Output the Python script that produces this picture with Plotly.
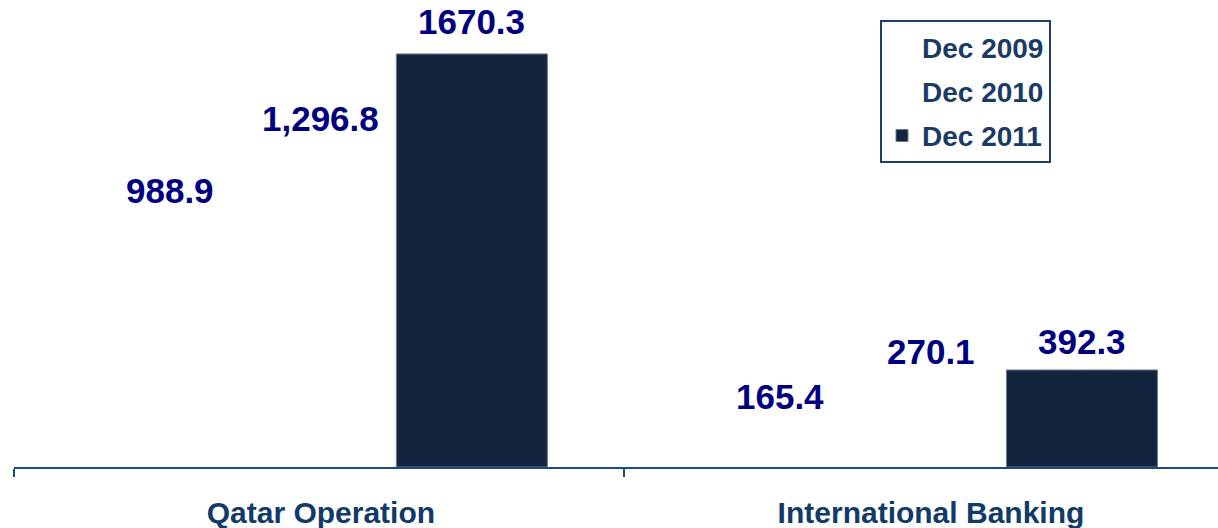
import plotly.graph_objects as go

categories = ["Qatar Operation", "International Banking"]
series_names = ["Dec 2009", "Dec 2010", "Dec 2011"]
dec2009 = [988.9, 165.4]
dec2010 = [1296.8, 270.1]
dec2011 = [1670.3, 392.3]
value_labels = [["988.9", "165.4"], ["1,296.8", "270.1"], ["1670.3", "392.3"]]

series_values = [dec2009, dec2010, dec2011]
fills = ["white", "white", "#13243F"]
lines = ["rgba(0,0,0,0)", "rgba(0,0,0,0)", "#6B7B8C"]
label_shift = [[32, 30], [28, 49], [32, 28]]

bar_w = 0.2475
offsets = [-bar_w, 0.0, bar_w]
xpos = list(range(len(categories)))

fig = go.Figure()
for i, (name, vals) in enumerate(zip(series_names, series_values)):
    fig.add_trace(go.Bar(
        name=name, x=xpos, y=vals, width=bar_w,
        offset=offsets[i] - bar_w / 2,
        marker=dict(color=fills[i], line=dict(color=lines[i], width=1)),
        legendgroup=name,
        hoverinfo="skip",
    ))

annotations = []
for i, vals in enumerate(series_values):
    for j, v in enumerate(vals):
        annotations.append(dict(
            x=xpos[j] + offsets[i], y=v, xref="x", yref="y",
            text="<b>" + value_labels[i][j] + "</b>", showarrow=False,
            yanchor="middle", xanchor="center", yshift=label_shift[i][j],
            font=dict(family="Arial", size=35, color="#000080"),
        ))

fig.update_layout(
    width=1218, height=528,
    margin=dict(l=14, r=0, t=0, b=61, autoexpand=False),
    paper_bgcolor="white", plot_bgcolor="white",
    barmode="overlay",
    showlegend=True,
    legend=dict(
        x=(880 - 14) / 1204, y=1 - 20 / 467, xanchor="left", yanchor="top",
        bordercolor="#1F3F6E", borderwidth=2, bgcolor="white",
        font=dict(family="Arial", size=28, color="#1B3A66", weight="bold"),
        tracegroupgap=5,
        traceorder="grouped",
    ),
    annotations=annotations,
    xaxis=dict(
        range=[-0.503, 1.4705], showgrid=False, zeroline=False, automargin=False,
        showline=True, linecolor="#1B4A80", linewidth=2,
        tickvals=xpos, ticktext=["<b>" + c + "</b>" for c in categories],
        ticks="", ticklabelstandoff=18,
        tickfont=dict(family="Arial", size=30, color="#113A6B"),
        minor=dict(ticks="outside", tick0=-0.503, dtick=1, ticklen=8,
                   tickwidth=2, tickcolor="#1B4A80", showgrid=False),
    ),
    yaxis=dict(range=[0, 1888.4], visible=False, showgrid=False, zeroline=False,
               automargin=False),
)

fig.write_html("out.html", config={"displayModeBar": False},
               post_script="document.body.style.margin='0';")
